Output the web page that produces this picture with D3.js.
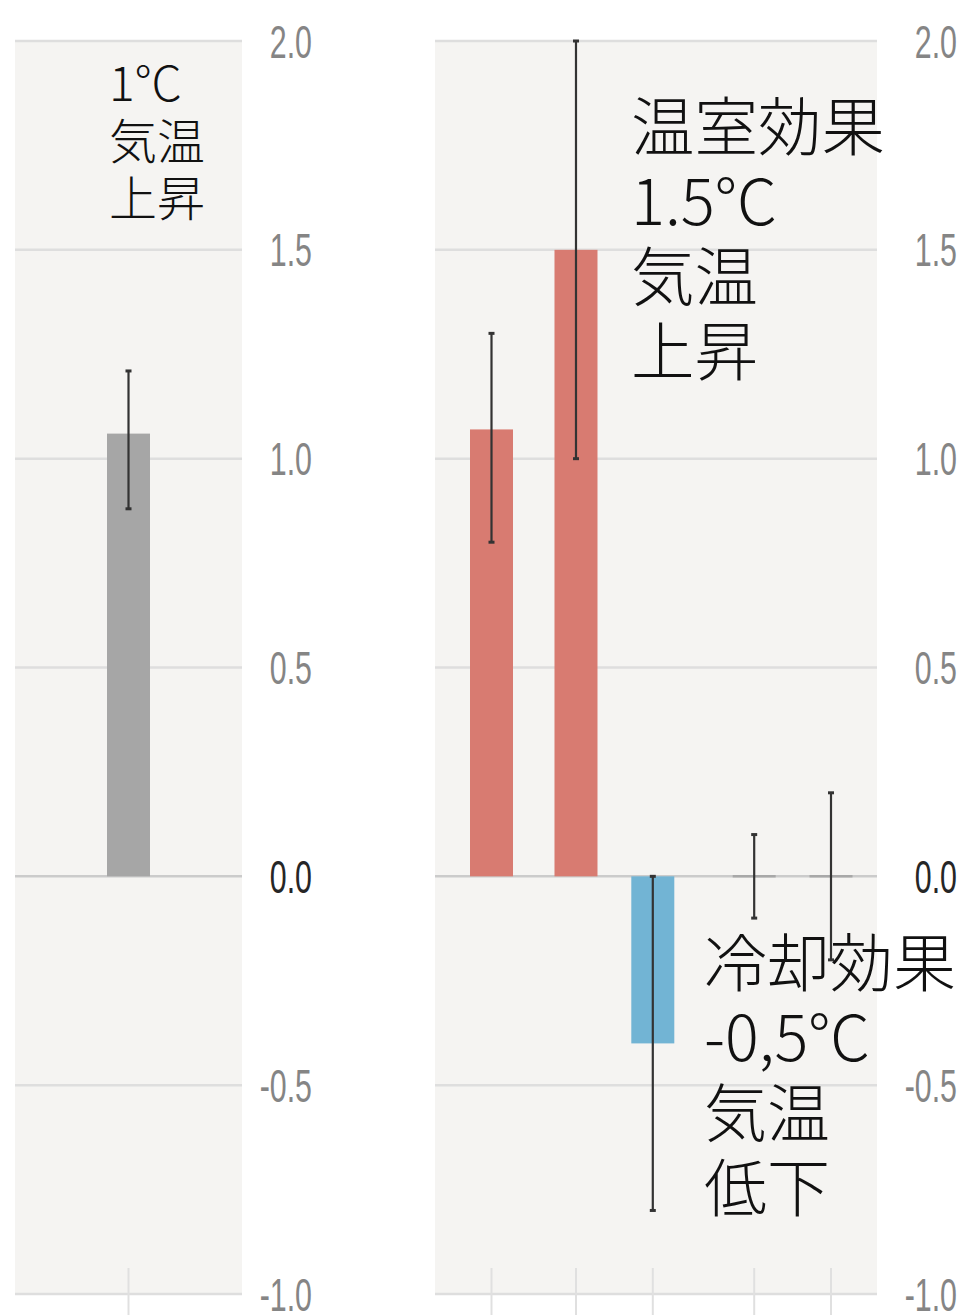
<!DOCTYPE html>
<html>
<head>
<meta charset="utf-8">
<script src="https://cdn.jsdelivr.net/npm/d3@7"></script>
<style>
  body { margin: 0; background: #fff; }
  svg { display: block; }
</style>
</head>
<body>
<div id="container"></div>
<script>
var width = 963,
    height = 1315;

// observed warming (left panel)
var obsCats = ["観測"];
var obsValues = [1.06];
var obsLow = [0.88];
var obsHigh = [1.21];

// contributions (right panel)
var contribCats = ["人為起源合計", "温室効果ガス", "その他の人為起源", "自然起源", "内部変動"];
var contribValues = [1.07, 1.50, -0.40, 0.0, 0.0];
var contribLow = [0.80, 1.00, -0.80, -0.10, -0.20];
var contribHigh = [1.30, 2.00, 0.00, 0.10, 0.20];
var contribGroup = [0, 1, 1, 2, 2];
var contribColors = ["#d87b71", "#d87b71", "#72b4d4", "#999", "#999"];

var yTicks = [2.0, 1.5, 1.0, 0.5, 0.0, -0.5, -1.0];

var svg = d3.select("#container").append("svg")
    .attr("width", width)
    .attr("height", height);

var y = d3.scaleLinear()
    .domain([-1, 2])
    .range([1294, 41]);

var barW = 43;

function drawPanel(x0, x1, labelX) {
    svg.append("rect")
        .attr("x", x0)
        .attr("y", y(2))
        .attr("width", x1 - x0)
        .attr("height", y(-1) - y(2))
        .attr("fill", "#f5f4f2");

    svg.selectAll(null)
        .data(yTicks)
        .enter().append("line")
        .attr("x1", x0)
        .attr("x2", x1)
        .attr("y1", d => y(d))
        .attr("y2", d => y(d))
        .attr("stroke", d => d == 0 ? "#cbcbcb" : "#dedede")
        .attr("stroke-width", 2.5);

    var lab = svg.selectAll(null)
        .data(yTicks)
        .enter().append("text")
        .attr("x", labelX)
        .attr("y", d => y(d))
        .attr("dy", "0.36em")
        .attr("text-anchor", "end")
        .attr("font-family", "Liberation Sans, Arial, sans-serif")
        .attr("font-size", 46)
        .attr("fill", d => d == 0 ? "#262626" : "#858585")
        .text(d => d3.format(".1f")(d).replace("−", "-"));
    // squeeze into the narrow look of the original labels
    lab.each(function() {
        var len = this.getComputedTextLength();
        d3.select(this)
            .attr("textLength", len * 0.66)
            .attr("lengthAdjust", "spacingAndGlyphs");
    });
}

function drawErrors(data, xc) {
    var g = svg.append("g")
        .attr("stroke", "#333")
        .attr("stroke-width", 2.2);
    g.selectAll(null)
        .data(data)
        .enter().append("line")
        .attr("x1", d => xc(d))
        .attr("x2", d => xc(d))
        .attr("y1", d => y(d.hi))
        .attr("y2", d => y(d.lo));
    g.selectAll(null)
        .data(data.flatMap(d => [{d: d, v: d.hi}, {d: d, v: d.lo}]))
        .enter().append("line")
        .attr("x1", e => xc(e.d) - 3)
        .attr("x2", e => xc(e.d) + 3)
        .attr("y1", e => y(e.v))
        .attr("y2", e => y(e.v))
        .attr("stroke-width", 3);
}

function drawXTicks(data, xc) {
    svg.selectAll(null)
        .data(data)
        .enter().append("line")
        .attr("x1", d => xc(d))
        .attr("x2", d => xc(d))
        .attr("y1", y(-1) - 26)
        .attr("y2", height)
        .attr("stroke", "#e0e0e0")
        .attr("stroke-width", 2);
}

// ---- left panel
drawPanel(15, 242, 312);

var xObs = d3.scalePoint()
    .domain(obsCats)
    .range([15, 242])
    .padding(0.5);

var obsData = obsCats.map((c, i) => ({cat: c, v: obsValues[i], lo: obsLow[i], hi: obsHigh[i]}));

drawXTicks(obsData, d => xObs(d.cat));

svg.selectAll(null)
    .data(obsData)
    .enter().append("rect")
    .attr("x", d => xObs(d.cat) - barW / 2)
    .attr("y", d => y(Math.max(0, d.v)))
    .attr("width", barW)
    .attr("height", d => Math.abs(y(d.v) - y(0)))
    .attr("fill", "#a6a6a6");

drawErrors(obsData, d => xObs(d.cat));

// ---- right panel
drawPanel(435, 877, 957);

// extra space before each group, in bar steps
var groupGap = [0, 0.1, 0.42];
var slot = contribCats.map((c, i) => i + groupGap[contribGroup[i]]);
var xSlot = d3.scaleLinear()
    .domain(d3.extent(slot))
    .range([491.5, 831]);

var contribData = contribCats.map((c, i) => ({
    cat: c, v: contribValues[i], lo: contribLow[i], hi: contribHigh[i],
    color: contribColors[i], pos: slot[i]
}));

drawXTicks(contribData, d => xSlot(d.pos));

svg.selectAll(null)
    .data(contribData.filter(d => d.v != 0))
    .enter().append("rect")
    .attr("x", d => xSlot(d.pos) - barW / 2)
    .attr("y", d => y(Math.max(0, d.v)))
    .attr("width", barW)
    .attr("height", d => Math.abs(y(d.v) - y(0)))
    .attr("fill", d => d.color);

// zero-height bars show as a short line on the baseline
svg.selectAll(null)
    .data(contribData.filter(d => d.v == 0))
    .enter().append("line")
    .attr("x1", d => xSlot(d.pos) - barW / 2)
    .attr("x2", d => xSlot(d.pos) + barW / 2)
    .attr("y1", d => y(d.v))
    .attr("y2", d => y(d.v))
    .attr("stroke", "#a8a8a8")
    .attr("stroke-width", 2.5);

drawErrors(contribData, d => xSlot(d.pos));

// ---- annotations
var notes = [
    {x: 109, y: 101, size: 48, lh: 57.5, lines: ["1°C", "気温", "上昇"]},
    {x: 631, y: 150, size: 63.5, lh: 75, lines: ["温室効果", "1.5°C", "気温", "上昇"]},
    {x: 704, y: 986, size: 63, lh: 75, lines: ["冷却効果", "-0,5°C", "気温", "低下"]}
];

notes.forEach(n => {
    var t = svg.append("text")
        .attr("x", n.x)
        .attr("y", n.y)
        .attr("font-family", "Noto Sans CJK JP, sans-serif")
        .attr("font-weight", 300)
        .attr("font-size", n.size)
        .attr("fill", "#111");
    t.selectAll("tspan")
        .data(n.lines)
        .enter().append("tspan")
        .attr("x", n.x)
        .attr("dy", (d, i) => i == 0 ? 0 : n.lh)
        .text(d => d);
});
</script>
</body>
</html>
